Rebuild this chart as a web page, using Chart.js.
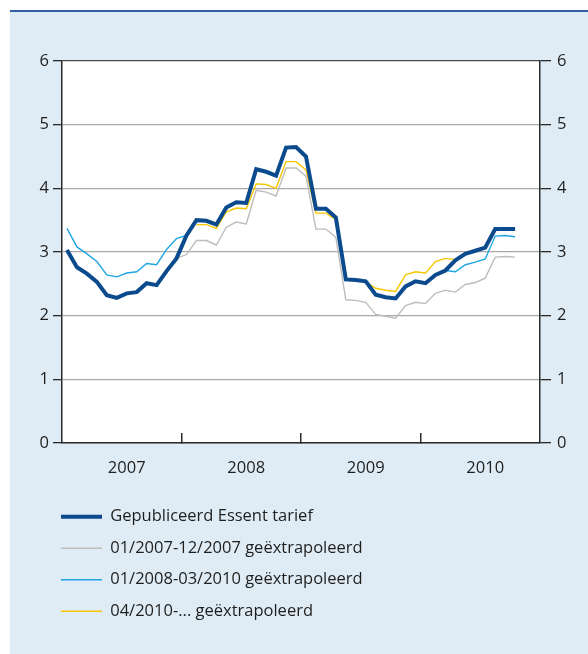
<!DOCTYPE html>
<html>
<head>
<meta charset="utf-8">
<script src="https://cdn.jsdelivr.net/npm/chart.js@4.4.1/dist/chart.umd.min.js"></script>
<style>
  html, body { margin: 0; padding: 0; background: #fff; }
  #wrap { position: relative; width: 588px; height: 654px; overflow: hidden; }
  #panel { position: absolute; left: 10px; top: 10px; right: 0; bottom: 0;
    background: #dfecf5; border-top: 2px solid #2e5fa3; }
  #c { position: absolute; left: 0; top: 0; }
</style>
</head>
<body>
<div id="wrap">
  <div id="panel"></div>
  <canvas id="c" width="588" height="654"></canvas>
</div>
<script>
// Essent tariff vs. extrapolations, monthly 2007-2010 (index 0 = 01/2007)
const years = ["2007", "2008", "2009", "2010"];
const monthNames = ["01", "02", "03", "04", "05", "06", "07", "08", "09", "10", "11", "12"];
const monthLabels = years.flatMap((y) => monthNames.map((m) => m + "/" + y));

const published = [
  3.03, 2.76, 2.66, 2.53, 2.32, 2.28, 2.35, 2.37, 2.51, 2.48, 2.70, 2.90,
  3.26, 3.50, 3.49, 3.43, 3.70, 3.78, 3.77, 4.30, 4.26, 4.20, 4.64, 4.65,
  4.50, 3.68, 3.68, 3.54, 2.57, 2.56, 2.54, 2.33, 2.29, 2.27, 2.46, 2.54,
  2.51, 2.64, 2.71, 2.87, 2.97, 3.02, 3.07, 3.36, 3.36, 3.36, null, null,
];
const extrap2007 = [
  null, null, null, null, null, null, null, null, null, null, null, 2.90,
  2.96, 3.18, 3.18, 3.11, 3.39, 3.47, 3.44, 3.97, 3.94, 3.88, 4.32, 4.32,
  4.19, 3.36, 3.36, 3.23, 2.25, 2.24, 2.21, 2.02, 1.99, 1.96, 2.16, 2.21,
  2.19, 2.35, 2.40, 2.37, 2.49, 2.52, 2.59, 2.92, 2.93, 2.92, null, null,
];
const extrap2008 = [
  3.37, 3.08, 2.97, 2.85, 2.64, 2.61, 2.67, 2.69, 2.82, 2.80, 3.04, 3.21,
  3.26, null, null, null, null, null, null, null, null, null, null, null,
  null, null, null, null, null, null, null, null, null, null, null, null,
  null, null, 2.71, 2.69, 2.80, 2.84, 2.89, 3.25, 3.26, 3.24, null, null,
];
const extrap2010 = [
  null, null, null, null, null, null, null, null, null, null, null, null,
  null, 3.43, 3.43, 3.37, 3.63, 3.69, 3.68, 4.07, 4.06, 4.00, 4.42, 4.42,
  4.29, 3.61, 3.61, 3.51, 2.58, 2.56, 2.53, 2.43, 2.40, 2.38, 2.64, 2.69,
  2.67, 2.85, 2.90, 2.88, null, null, null, null, null, null, null, null,
];
const seriesNames = [
  "Gepubliceerd Essent tarief",
  "01/2007-12/2007 geëxtrapoleerd",
  "01/2008-03/2010 geëxtrapoleerd",
  "04/2010-... geëxtrapoleerd",
];
const yTicks = [0, 1, 2, 3, 4, 5, 6];

const COLORS = {
  published: "#0b4a8c",
  ex2007: "#bdbdbd",
  ex2008: "#1ea5e4",
  ex2010: "#f7c600",
  axis: "#2a2a2a",
  grid: "#a9a9a9",
  text: "#1e1e1e",
};

const FONT = { family: "'Open Sans', 'Noto Sans', sans-serif", size: 16.5 };

const line = (label, data, color, width) => ({
  label, data, borderColor: color, backgroundColor: color, borderWidth: width,
  pointRadius: 0, pointHoverRadius: 0, tension: 0, fill: false, spanGaps: false,
});

// white plot area on top of the light-blue panel
const plotBg = {
  id: "plotBg",
  beforeDraw(chart) {
    const { ctx, chartArea: a } = chart;
    ctx.save();
    ctx.fillStyle = "#fff";
    ctx.fillRect(a.left, a.top, a.right - a.left, a.bottom - a.top);
    ctx.restore();
  },
};

// legend sits a bit right of the canvas padding, under the y axis
const legendShift = {
  id: "legendShift",
  afterLayout(chart) {
    chart.legend.left += 7;
    chart.legend.right += 7;
  },
};

new Chart(document.getElementById("c"), {
  type: "line",
  data: {
    labels: monthLabels,
    datasets: [
      line(seriesNames[0], published, COLORS.published, 4),
      line(seriesNames[1], extrap2007, COLORS.ex2007, 1.4),
      line(seriesNames[2], extrap2008, COLORS.ex2008, 1.4),
      line(seriesNames[3], extrap2010, COLORS.ex2010, 1.4),
    ],
  },
  plugins: [plotBg, legendShift],
  options: {
    responsive: false, animation: false, events: [],
    layout: { padding: { left: 39, right: 21, top: 61, bottom: 24.5 } },
    plugins: {
      tooltip: { enabled: false },
      legend: {
        position: "bottom", align: "start",
        labels: {
          usePointStyle: true, pointStyleWidth: 41, padding: 15,
          color: COLORS.text, font: FONT,
          generateLabels: (chart) => chart.data.datasets.map((ds, i) => ({
            text: ds.label, strokeStyle: ds.borderColor, fillStyle: ds.borderColor,
            lineWidth: ds.borderWidth, pointStyle: "line", lineCap: "butt",
            fontColor: COLORS.text, hidden: false, datasetIndex: i,
          })),
        },
      },
    },
    scales: {
      x: {
        type: "category", offset: true,
        border: { display: true, color: COLORS.axis, width: 1.5 },
        grid: {
          offset: true, drawOnChartArea: false, drawTicks: true, tickLength: -10,
          lineWidth: 1.5,
          color: (c) => (c.index % 12 === 0 && c.index > 0 && c.index < 48 ? COLORS.axis : "rgba(0,0,0,0)"),
        },
        ticks: {
          autoSkip: false, maxRotation: 0, minRotation: 0, padding: 25,
          color: COLORS.text, font: FONT,
          callback: (v, i) => (i % 12 === 6 ? years[Math.floor(i / 12)] : ""),
        },
        afterFit: (s) => { s.height = 50.5; },
      },
      y: {
        position: "left", min: 0, max: 6,
        afterBuildTicks: (s) => { s.ticks = yTicks.map((v) => ({ value: v })); },
        border: { display: true, color: COLORS.axis, width: 1.5 },
        grid: {
          lineWidth: 1.3, tickLength: 9,
          color: (c) => (c.tick && c.tick.value === 6 ? "#4a4a4a" : COLORS.grid),
          tickColor: COLORS.axis,
        },
        ticks: { padding: 4, color: COLORS.text, font: FONT },
        afterFit: (s) => { s.width = 23; },
      },
      y2: {
        position: "right", min: 0, max: 6,
        afterBuildTicks: (s) => { s.ticks = yTicks.map((v) => ({ value: v })); },
        border: { display: true, color: COLORS.axis, width: 1.5 },
        grid: { drawOnChartArea: false, tickLength: 11, lineWidth: 1.3, color: COLORS.axis },
        ticks: { padding: 6, color: COLORS.text, font: FONT },
        afterFit: (s) => { s.width = 27; },
      },
    },
  },
});
</script>
</body>
</html>
